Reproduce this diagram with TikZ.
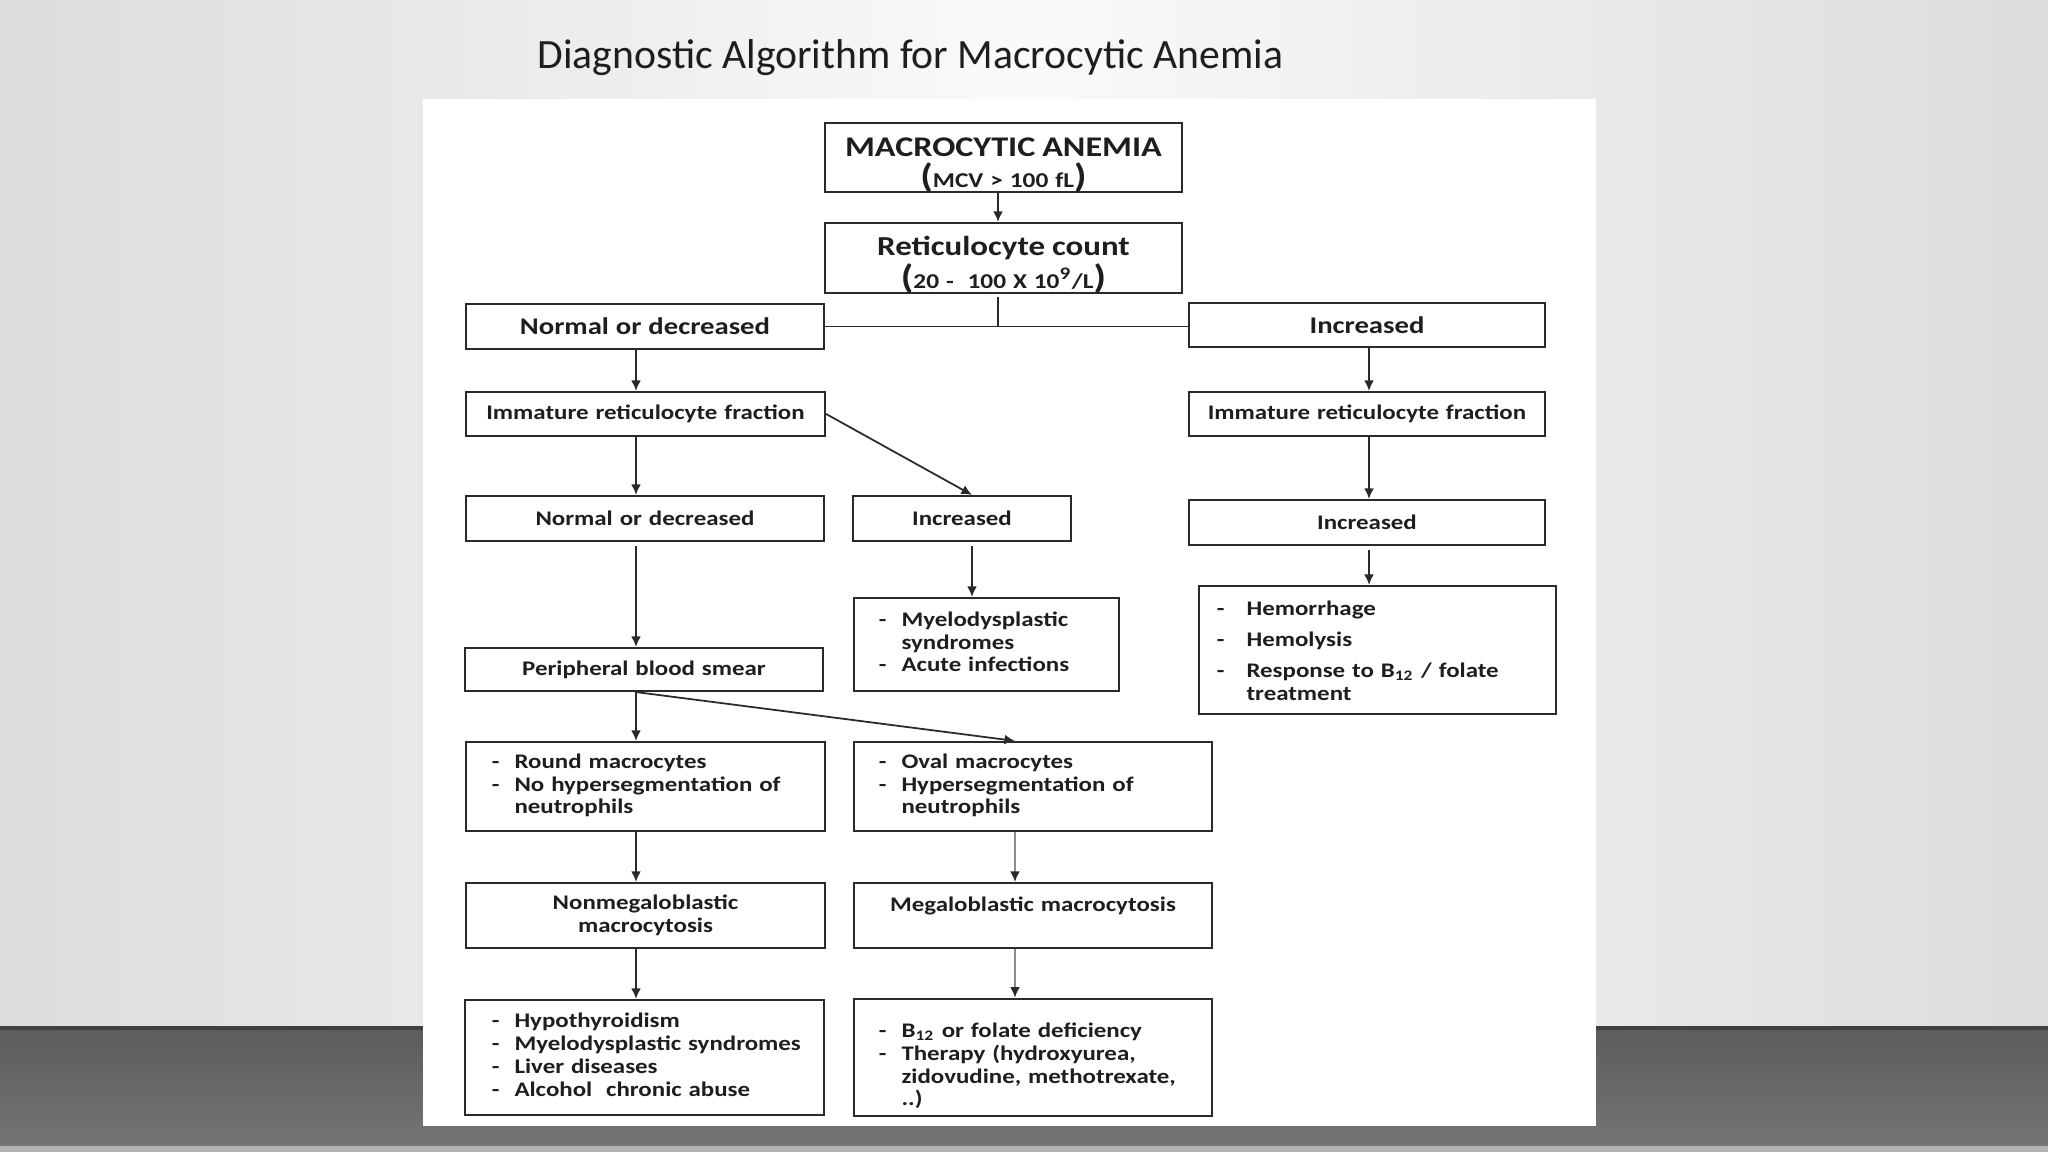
\documentclass[tikz,border=0pt]{standalone}
\usepackage{fontspec}
\setmainfont{Carlito}
\newfontfamily\df[FakeStretch=1.2]{Carlito}
\usetikzlibrary{arrows.meta}
\definecolor{ink}{HTML}{1E1E1E}
\definecolor{edge}{HTML}{2A2A2A}
\definecolor{wallside}{HTML}{DCDCDE}
\definecolor{wallmid}{HTML}{FAFAFA}
\definecolor{floortop}{HTML}{5C5C5C}
\definecolor{floorbot}{HTML}{747474}
\newcommand\fsz[2]{\fontsize{#1}{#2}\selectfont}
\newcommand\mkbox[8][]{%
  \pgfmathsetmacro\bw{(#5-#3)/100}%
  \pgfmathsetmacro\bh{(#6-#4)/100}%
  \pgfmathsetmacro\tw{(#5-#3-2*#7)/100}%
  \node[boxst, minimum width=\bw cm, minimum height=\bh cm, text width=\tw cm,
        inner xsep=#7*0.01cm, #1] (#2) at ({(#3+#5)/2},{(#4+#6)/2}) {#8};}
\newcommand\lst[1]{{\renewcommand\arraystretch{1}\begin{tabular}{@{}l@{\hspace{0.15cm}}l@{}}#1\end{tabular}}}
\newcommand\twoline[5]{\raisebox{#1}[0pt][0pt]{\fsz{#2}{#3}\renewcommand\arraystretch{1}\begin{tabular}[t]{@{}c@{}}#4\\#5\end{tabular}}}
\newcommand\bigp[1]{\smash{\fsz{9.5}{9.5}#1}}
\begin{document}
\begin{tikzpicture}[x=0.01cm,y=-0.01cm,
  boxst/.style={draw=edge, line width=0.6pt, fill=white, inner ysep=1pt,
    font=\df\bfseries\fsz{5.9}{6.5}, text=ink, align=center},
  ln/.style={draw=edge, line width=0.5pt},
  arr/.style={ln, -{Latex[length=3pt,width=2.8pt]}},
  garr/.style={draw=black!45, line width=0.5pt, -{Latex[length=3pt,width=2.8pt,color=edge]}}]
\useasboundingbox (0,0) rectangle (2048,1152);
% background
\shade[left color=wallside, right color=wallside, middle color=wallmid] (0,0) rectangle (2048,1028);
\shade[top color=floortop, bottom color=floorbot] (0,1028) rectangle (2048,1146);
\fill[black!75] (0,1026) rectangle (2048,1030);
\fill[black!30] (0,1146) rectangle (2048,1152);
\fill[white] (423,99) rectangle (1596,1126);
% title
\node[anchor=base west, font=\fsz{11.85}{14}, text=ink, inner sep=0] (title) at (537,69)
  {Diagnostic Algorithm for Macrocytic Anemia};
% boxes
\mkbox{A}{825}{123}{1182}{192}{2}{\twoline{0.25pt}{8.1}{8.8}{MACROCYTIC ANEMIA}{\bigp{(}{\fsz{6}{6}MCV > 100 fL}\bigp{)}}}
\mkbox{B}{825}{223}{1182}{293}{2}{\twoline{0.85pt}{7.8}{9.5}{Reticulocyte count}{\bigp{(}{\fsz{6}{6}20 -\ \ 100 X 10\textsuperscript{9}/L}\bigp{)}}}
\mkbox{L1}{466}{304}{824}{349}{2}{\fsz{6.8}{8}Normal or decreased}
\mkbox{R1}{1189}{303}{1545}{347}{2}{\fsz{6.8}{8}Increased}
\mkbox{L2}{466}{392}{825}{436}{2}{Immature reticulocyte fraction}
\mkbox{R2}{1189}{392}{1545}{436}{2}{Immature reticulocyte fraction}
\mkbox{L3}{466}{496}{824}{541}{2}{Normal or decreased}
\mkbox{M3}{853}{496}{1071}{541}{2}{Increased}
\mkbox{R3}{1189}{500}{1545}{545}{2}{Increased}
\mkbox[align=left]{M4}{854}{598}{1119}{691}{25}{\lst{- & Myelodysplastic\\ & syndromes\\ - & Acute infections}}
\mkbox[align=left]{R4}{1199}{586}{1556}{714}{18}{{\renewcommand\arraystretch{1}\begin{tabular}{@{}l@{\hspace{0.22cm}}l@{}}- & \rule{0pt}{6.5pt}Hemorrhage\\[2.2pt] - & Hemolysis\\[2.2pt] - & Response to B\textsubscript{12} / folate\\ & treatment\end{tabular}}}
\mkbox{L4}{465}{648}{823}{691}{2}{Peripheral blood smear}
\mkbox[align=left]{L5}{466}{742}{825}{831}{26}{\lst{- & Round macrocytes\\ - & No hypersegmentation of\\ & neutrophils}}
\mkbox[align=left]{M5}{854}{742}{1212}{831}{25}{\lst{- & Oval macrocytes\\ - & Hypersegmentation of\\ & neutrophils}}
\mkbox{L6}{466}{883}{825}{948}{2}{Nonmegaloblastic\\macrocytosis}
\mkbox{M6}{854}{883}{1212}{948}{2}{Megaloblastic macrocytosis\\\mbox{}}
\mkbox[align=left]{L7}{465}{1000}{824}{1115}{27}{\lst{- & Hypothyroidism\\ - & Myelodysplastic syndromes\\ - & Liver diseases\\ - & Alcohol\ \ chronic abuse}}
\mkbox[align=left]{M7}{854}{1000}{1212}{1115}{25}{\lst{- & \rule{0pt}{10pt}B\textsubscript{12} or folate deficiency\\ - & Therapy (hydroxyurea,\\ & zidovudine, methotrexate,\\ & ..)}}
% column guides
\coordinate (cT) at (998,0);
\coordinate (cL) at (636,0);
\coordinate (cM) at (972,0);
\coordinate (cMM) at (1015,0);
\coordinate (cR) at (1369,0);
\coordinate (J) at (998,326);
% connectors
\draw[arr] (A.south -| cT) -- (B.north -| cT);
\draw[ln, shorten <=0.03cm] (B.south -| cT) -- (J);
\draw[ln] (L1.east) -- (L1.east -| R1.west);
\draw[arr] (L1.south -| cL) -- (L2.north -| cL);
\draw[arr] (R1.south -| cR) -- (R2.north -| cR);
\draw[arr] (L2.south -| cL) -- (L3.north -| cL);
\draw[arr] (L2.east) -- (M3.north -| cM);
\draw[arr] (R2.south -| cR) -- (R3.north -| cR);
\draw[arr, shorten <=0.04cm] (L3.south -| cL) -- (L4.north -| cL);
\draw[arr, shorten <=0.04cm] (M3.south -| cM) -- (M4.north -| cM);
\draw[arr, shorten <=0.04cm] (R3.south -| cR) -- (R4.north -| cR);
\draw[arr] (L4.south -| cL) -- (L5.north -| cL);
\draw[arr] (L4.south -| cL) -- (M5.north -| cMM);
\draw[arr] (L5.south -| cL) -- (L6.north -| cL);
\draw[garr] (M5.south -| cMM) -- (M6.north -| cMM);
\draw[arr] (L6.south -| cL) -- (L7.north -| cL);
\draw[garr] (M6.south -| cMM) -- (M7.north -| cMM);
\end{tikzpicture}
\end{document}
